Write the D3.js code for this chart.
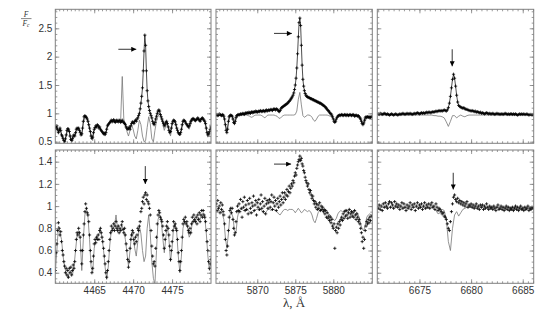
<!DOCTYPE html>
<html>
<head>
<meta charset="utf-8">
<script src="https://cdn.jsdelivr.net/npm/d3@7"></script>
<style>
body { margin: 0; background: #fff; }
svg { display: block; }
</style>
</head>
<body>
<svg id="chart" width="555" height="334"></svg>
<script>
// Wavelength grids: observed points every 0.1 A, model every 0.2 A
var obsStep = 0.1, modelStep = 0.2;
var start4471 = 4460.0, start5876 = 5864.6, start6678 = 6671.0;

// Top row star, He I 4471
var obsTop4471 = [
    0.76, 0.74, 0.78, 0.72, 0.66, 0.7, 0.74, 0.7, 0.62, 0.6,
    0.56, 0.52, 0.5, 0.55, 0.62, 0.7, 0.73, 0.72, 0.68, 0.6,
    0.54, 0.52, 0.56, 0.6, 0.62, 0.6, 0.66, 0.72, 0.74, 0.73,
    0.74, 0.7, 0.66, 0.62, 0.64, 0.74, 0.86, 0.94, 0.96, 0.94,
    0.93, 0.9, 0.86, 0.8, 0.74, 0.68, 0.6, 0.56, 0.58, 0.66,
    0.72, 0.75, 0.78, 0.76, 0.8, 0.78, 0.74, 0.76, 0.72, 0.7,
    0.68, 0.66, 0.64, 0.65, 0.63, 0.66, 0.72, 0.78, 0.8, 0.82,
    0.84, 0.86, 0.88, 0.85, 0.87, 0.89, 0.86, 0.84, 0.87, 0.88,
    0.86, 0.85, 0.88, 0.87, 0.84, 0.86, 0.88, 0.85, 0.84, 0.82,
    0.8, 0.76, 0.74, 0.72, 0.73, 0.76, 0.72, 0.78, 0.82, 0.85,
    0.84, 0.82, 0.86, 0.88, 0.86, 0.9, 0.92, 0.96, 1.0, 1.08,
    1.18, 1.3, 1.45, 1.75, 2.1, 2.38, 2.2, 1.75, 1.4, 1.22,
    1.12, 1.05, 1.0, 0.96, 0.92, 0.86, 0.82, 0.8, 0.84, 0.9,
    0.95, 1.0, 1.04, 1.06, 1.04, 0.98, 0.94, 0.9, 0.86, 0.82,
    0.78, 0.8, 0.84, 0.86, 0.82, 0.76, 0.7, 0.66, 0.68, 0.74,
    0.82, 0.86, 0.88, 0.87, 0.85, 0.8, 0.74, 0.7, 0.66, 0.64,
    0.63, 0.66, 0.72, 0.8, 0.86, 0.88, 0.87, 0.85, 0.82, 0.8,
    0.78, 0.76, 0.78, 0.82, 0.86, 0.88, 0.9, 0.91, 0.9, 0.88,
    0.87, 0.89, 0.9, 0.92, 0.9, 0.88, 0.86, 0.89, 0.91, 0.92,
    0.9, 0.88, 0.86, 0.82, 0.74, 0.66, 0.62, 0.64, 0.68, 0.72,
    0.76
];
var modelTop4471 = [
    0.74, 0.72, 0.66, 0.72, 0.62,
    0.52, 0.5, 0.6, 0.7, 0.68,
    0.52, 0.5, 0.58, 0.62, 0.7,
    0.72, 0.66, 0.6, 0.82, 0.93,
    0.92, 0.86, 0.74, 0.58, 0.52,
    0.7, 0.76, 0.8, 0.78, 0.72,
    0.66, 0.62, 0.6, 0.72, 0.8,
    0.84, 0.86, 0.85, 0.86, 0.84,
    0.85, 0.86, 0.9, 1.65, 0.9,
    0.8, 0.68, 0.6, 0.7, 0.8,
    0.72, 0.6, 0.55, 0.7, 0.88,
    0.8, 0.6, 0.5, 0.52, 0.75,
    0.94, 0.82, 0.55, 0.5, 0.7,
    0.86, 0.95, 1.0, 0.92, 0.82,
    0.7, 0.78, 0.82, 0.72, 0.6,
    0.78, 0.86, 0.84, 0.74, 0.64,
    0.6, 0.7, 0.84, 0.86, 0.84,
    0.78, 0.72, 0.8, 0.88, 0.9,
    0.86, 0.88, 0.9, 0.86, 0.9,
    0.9, 0.84, 0.7, 0.58, 0.62,
    0.74
];

// Top row star, He I 5876
var obsTop5876 = [
    0.97, 0.98, 0.96, 0.97, 0.99, 0.98, 0.97, 0.96, 0.98, 0.97,
    0.95, 0.9, 0.8, 0.7, 0.66, 0.72, 0.86, 0.94, 0.96, 0.97,
    0.96, 0.95, 0.9, 0.84, 0.82, 0.86, 0.93, 0.96, 0.97, 0.98,
    0.97, 0.98, 0.99, 0.98, 0.99, 1.0, 0.99, 0.98, 1.0, 1.01,
    1.0, 1.01, 1.0, 1.02, 1.01, 1.0, 1.02, 1.03, 1.01, 1.02,
    1.03, 1.02, 1.04, 1.03, 1.02, 1.03, 1.04, 1.03, 1.05, 1.04,
    1.03, 1.04, 1.05, 1.04, 1.03, 1.05, 1.06, 1.04, 1.05, 1.06,
    1.05, 1.06, 1.07, 1.06, 1.05, 1.07, 1.08, 1.07, 1.06, 1.08,
    1.07, 1.06, 1.04, 1.03, 1.05, 1.08, 1.1, 1.11, 1.12, 1.13,
    1.14, 1.15, 1.16, 1.17, 1.18, 1.2, 1.21, 1.23, 1.25, 1.27,
    1.29, 1.32, 1.36, 1.42, 1.5, 1.62, 1.8, 2.05, 2.35, 2.6,
    2.68, 2.55, 2.2, 1.85, 1.6, 1.48, 1.4, 1.35, 1.32, 1.3,
    1.29, 1.28, 1.28, 1.27, 1.26, 1.26, 1.25, 1.24, 1.24, 1.23,
    1.22, 1.22, 1.21, 1.2, 1.2, 1.19, 1.18, 1.18, 1.17, 1.16,
    1.15, 1.14, 1.13, 1.12, 1.1, 1.09, 1.07, 1.05, 1.04, 1.02,
    1.0, 0.99, 0.97, 0.94, 0.9, 0.86, 0.84, 0.86, 0.9, 0.93,
    0.95, 0.96, 0.97, 0.96, 0.97, 0.98, 0.97, 0.96, 0.97, 0.98,
    0.97, 0.96, 0.98, 0.97, 0.96, 0.97, 0.98, 0.97, 0.96, 0.97,
    0.98, 0.97, 0.95, 0.96, 0.97, 0.96, 0.95, 0.96, 0.94, 0.92,
    0.9, 0.86, 0.82, 0.8, 0.83, 0.88, 0.92, 0.94, 0.93, 0.94,
    0.93, 0.94, 0.92, 0.93, 0.94
];
var modelTop5876 = [
    0.97, 0.96, 0.97, 0.96, 0.95,
    0.92, 0.8, 0.72, 0.82, 0.94,
    0.96, 0.93, 0.86, 0.88, 0.95,
    0.97, 0.97, 0.97, 0.97, 0.97,
    0.97, 0.96, 0.95, 0.93, 0.94,
    0.96, 0.97, 0.97, 0.97, 0.97,
    0.96, 0.94, 0.92, 0.95, 0.97,
    0.97, 0.97, 0.97, 0.97, 0.96,
    0.95, 0.92, 0.91, 0.94, 0.96,
    0.97, 0.97, 0.97, 0.97, 0.97,
    0.97, 0.97, 0.98, 1.04, 1.25,
    1.37, 1.15, 0.96, 0.93, 0.95,
    0.97, 0.97, 0.96, 0.93, 0.88,
    0.86, 0.9, 0.95, 0.97, 0.97,
    0.97, 0.97, 0.97, 0.97, 0.96,
    0.95, 0.93, 0.9, 0.88, 0.9,
    0.95, 0.97, 0.97, 0.97, 0.97,
    0.97, 0.97, 0.97, 0.97, 0.97,
    0.97, 0.96, 0.96, 0.95, 0.93,
    0.88, 0.82, 0.8, 0.86, 0.92,
    0.94, 0.95, 0.95
];

// Top row star, He I 6678
var obsTop6678 = [
    0.99, 0.98, 1.0, 0.99, 0.98, 0.99, 1.0, 0.99, 0.98, 0.99,
    0.98, 0.97, 0.98, 0.99, 0.98, 0.97, 0.98, 0.99, 0.98, 0.97,
    0.98, 0.99, 0.98, 0.99, 1.0, 0.99, 0.98, 0.99, 1.0, 0.99,
    0.99, 1.0, 0.99, 0.98, 0.99, 1.0, 0.99, 1.0, 1.01, 1.0,
    0.99, 1.0, 1.01, 1.0, 1.01, 1.0, 1.01, 1.02, 1.01, 1.02,
    1.02, 1.01, 1.02, 1.03, 1.02, 1.03, 1.04, 1.03, 1.04, 1.05,
    1.04, 1.05, 1.04, 1.05, 1.06, 1.05, 1.04, 1.06, 1.1, 1.18,
    1.3, 1.45, 1.6, 1.69, 1.62, 1.48, 1.32, 1.2, 1.14, 1.12,
    1.11, 1.1, 1.09, 1.1, 1.08, 1.07, 1.07, 1.06, 1.05, 1.05,
    1.04, 1.05, 1.04, 1.03, 1.04, 1.02, 1.03, 1.02, 1.01, 1.02,
    1.0, 1.01, 1.0, 0.99, 1.0, 1.01, 1.0, 0.99, 1.0, 0.99,
    0.99, 1.0, 0.99, 0.98, 0.99, 1.0, 0.99, 0.99, 0.98, 0.99,
    0.99, 0.98, 0.99, 1.0, 0.99, 0.98, 0.99, 0.98, 0.99, 0.99,
    0.98, 0.99, 0.98, 0.99, 0.98, 0.97, 0.98, 0.99, 0.98, 0.99,
    0.98, 0.99, 0.98, 0.98, 0.99, 0.98, 0.97, 0.98, 0.98, 0.97,
    0.98
];
var modelTop6678 = [
    0.97, 0.97, 0.97, 0.97, 0.97,
    0.97, 0.97, 0.97, 0.97, 0.97,
    0.97, 0.97, 0.97, 0.97, 0.97,
    0.97, 0.97, 0.97, 0.97, 0.97,
    0.97, 0.97, 0.97, 0.97, 0.97,
    0.97, 0.97, 0.96, 0.96, 0.95,
    0.95, 0.94, 0.92, 0.85, 0.77,
    0.86, 0.96, 0.96, 0.92, 0.95,
    0.97, 0.95, 0.94, 0.96, 0.97,
    0.97, 0.97, 0.97, 0.97, 0.97,
    0.97, 0.97, 0.97, 0.97, 0.97,
    0.97, 0.97, 0.97, 0.97, 0.97,
    0.97, 0.97, 0.97, 0.97, 0.97,
    0.97, 0.97, 0.97, 0.97, 0.97,
    0.97, 0.97, 0.97, 0.97, 0.97,
    0.97
];

// Bottom row star, He I 4471
var obsBot4471 = [
    0.42, 0.58, 0.66, 0.78, 0.85, 0.8, 0.74, 0.77, 0.68, 0.6,
    0.56, 0.5, 0.46, 0.4, 0.44, 0.38, 0.42, 0.36, 0.44, 0.4,
    0.45, 0.38, 0.42, 0.47, 0.44, 0.5, 0.6, 0.7, 0.76, 0.74,
    0.8, 0.76, 0.72, 0.6, 0.48, 0.6, 0.74, 0.84, 0.95, 1.02,
    0.98, 0.94, 0.92, 0.86, 0.74, 0.6, 0.5, 0.4, 0.44, 0.55,
    0.66, 0.7, 0.67, 0.72, 0.7, 0.74, 0.7, 0.78, 0.8, 0.76,
    0.72, 0.68, 0.62, 0.55, 0.48, 0.4, 0.36, 0.42, 0.5, 0.6,
    0.7, 0.76, 0.82, 0.78, 0.8, 0.84, 0.78, 0.82, 0.86, 0.8,
    0.78, 0.82, 0.76, 0.8, 0.78, 0.83, 0.86, 0.79, 0.76, 0.8,
    0.74, 0.66, 0.6, 0.52, 0.45, 0.5, 0.62, 0.7, 0.74, 0.78,
    0.76, 0.7, 0.66, 0.72, 0.68, 0.74, 0.8, 0.78, 0.82, 0.86,
    0.95, 0.98, 1.04, 1.08, 1.02, 1.1, 1.12, 1.06, 1.1, 1.04,
    1.02, 0.98, 0.92, 0.78, 0.64, 0.55, 0.48, 0.5, 0.46, 0.62,
    0.72, 0.84, 0.92, 0.96, 0.94, 0.9, 0.88, 0.86, 0.82, 0.74,
    0.62, 0.7, 0.78, 0.82, 0.86, 0.8, 0.74, 0.64, 0.52, 0.6,
    0.68, 0.78, 0.86, 0.82, 0.84, 0.8, 0.78, 0.7, 0.58, 0.5,
    0.42, 0.5, 0.6, 0.72, 0.84, 0.88, 0.86, 0.9, 0.84, 0.86,
    0.82, 0.78, 0.76, 0.8, 0.76, 0.84, 0.9, 0.86, 0.92, 0.88,
    0.86, 0.9, 0.84, 0.92, 0.88, 0.94, 0.86, 0.92, 0.96, 0.9,
    0.96, 0.92, 0.9, 0.86, 0.78, 0.68, 0.6, 0.5, 0.44, 0.48,
    0.52
];
var modelBot4471 = [
    0.4, 0.6, 0.82, 0.76, 0.7,
    0.55, 0.45, 0.4, 0.35, 0.4,
    0.42, 0.38, 0.45, 0.6, 0.74,
    0.78, 0.7, 0.42, 0.7, 0.92,
    0.98, 0.9, 0.7, 0.45, 0.4,
    0.62, 0.7, 0.72, 0.75, 0.78,
    0.72, 0.6, 0.45, 0.34, 0.45,
    0.65, 0.78, 0.8, 0.82, 0.92,
    0.8, 0.78, 0.8, 0.82, 0.78,
    0.7, 0.58, 0.46, 0.6, 0.76,
    0.72, 0.62, 0.55, 0.68, 0.82,
    0.75, 0.6, 0.5, 0.55, 0.8,
    0.92, 0.75, 0.5, 0.35, 0.3,
    0.6, 0.88, 0.92, 0.88, 0.72,
    0.58, 0.72, 0.82, 0.7, 0.5,
    0.62, 0.82, 0.84, 0.76, 0.55,
    0.4, 0.55, 0.8, 0.86, 0.85,
    0.8, 0.72, 0.75, 0.85, 0.88,
    0.85, 0.87, 0.9, 0.88, 0.92,
    0.94, 0.9, 0.75, 0.55, 0.42,
    0.5
];

// Bottom row star, He I 5876
var obsBot5876 = [
    1.02, 0.96, 1.05, 0.98, 1.0, 0.94, 1.03, 0.97, 1.01, 0.95,
    0.92, 0.84, 0.7, 0.6, 0.56, 0.64, 0.78, 0.9, 0.96, 0.98,
    0.94, 0.98, 0.88, 0.8, 0.74, 0.76, 0.86, 0.95, 1.0, 0.96,
    1.02, 0.95, 1.06, 0.98, 0.9, 1.04, 0.99, 1.08, 0.96, 1.01,
    0.97, 1.05, 0.93, 1.02, 1.07, 0.98, 0.94, 1.03, 1.0, 1.09,
    0.96, 1.01, 1.05, 0.92, 1.03, 0.99, 1.06, 0.97, 1.02, 1.1,
    0.98, 1.04, 0.95, 1.0, 1.07, 0.93, 1.02, 1.05, 0.98, 1.03,
    1.06, 0.99, 1.04, 1.1, 0.97, 1.03, 1.08, 1.0, 1.05, 0.96,
    1.02, 1.07, 0.99, 1.04, 1.09, 1.01, 1.06, 1.12, 1.03, 1.08,
    1.12, 1.06, 1.1, 1.15, 1.09, 1.13, 1.18, 1.12, 1.16, 1.2,
    1.18, 1.23, 1.21, 1.27, 1.3, 1.28, 1.34, 1.37, 1.4, 1.42,
    1.45, 1.41, 1.43, 1.38, 1.36, 1.32, 1.3, 1.26, 1.23, 1.21,
    1.18, 1.2, 1.15, 1.12, 1.14, 1.1, 1.07, 1.09, 1.05, 1.02,
    1.04, 0.99, 1.02, 0.97, 1.01, 0.98, 1.03, 0.96, 1.0, 0.97,
    0.99, 0.95, 0.97, 0.93, 0.96, 0.9, 0.94, 0.89, 0.91, 0.87,
    0.9, 0.85, 0.88, 0.82, 0.8, 0.84, 0.62, 0.78, 0.81, 0.76,
    0.84, 0.8, 0.86, 0.83, 0.88, 0.9, 0.87, 0.93, 0.89, 0.95,
    0.91, 0.96, 0.92, 0.89, 0.94, 0.97, 0.9, 0.93, 0.95, 0.91,
    0.94, 0.9, 0.96, 0.92, 0.88, 0.93, 0.9, 0.86, 0.88, 0.84,
    0.8, 0.76, 0.68, 0.72, 0.62, 0.7, 0.78, 0.82, 0.86, 0.84,
    0.88, 0.85, 0.9, 0.87, 0.91
];
var modelBot5876 = [
    0.96, 0.95, 0.96, 0.95, 0.93,
    0.88, 0.72, 0.62, 0.75, 0.92,
    0.94, 0.9, 0.78, 0.76, 0.9,
    0.96, 0.97, 0.97, 0.96, 0.97,
    0.97, 0.96, 0.95, 0.93, 0.94,
    0.96, 0.97, 0.97, 0.96, 0.97,
    0.96, 0.94, 0.93, 0.95, 0.97,
    0.97, 0.96, 0.97, 0.97, 0.96,
    0.95, 0.93, 0.92, 0.94, 0.96,
    0.97, 0.97, 0.96, 0.97, 0.97,
    0.97, 0.96, 0.94, 0.96, 0.98,
    0.96, 0.94, 0.95, 0.97, 0.96,
    0.95, 0.96, 0.95, 0.92, 0.87,
    0.85, 0.89, 0.94, 0.96, 0.97,
    0.96, 0.96, 0.95, 0.94, 0.93,
    0.92, 0.9, 0.88, 0.87, 0.89,
    0.93, 0.95, 0.96, 0.95, 0.96,
    0.97, 0.95, 0.96, 0.97, 0.96,
    0.95, 0.96, 0.95, 0.93, 0.9,
    0.84, 0.79, 0.78, 0.83, 0.9,
    0.92, 0.93, 0.92
];

// Bottom row star, He I 6678
var obsBot6678 = [
    0.98, 1.01, 0.97, 1.0, 0.96, 1.02, 0.99, 1.03, 1.0, 0.98,
    1.02, 1.04, 0.99, 1.03, 1.01, 0.98, 1.04, 1.0, 1.02, 0.99,
    1.01, 0.97, 1.0, 1.03, 0.98, 1.02, 0.99, 0.96, 1.01, 0.98,
    1.0, 1.03, 0.97, 1.01, 0.99, 1.02, 0.96, 1.0, 1.03, 0.98,
    1.01, 0.99, 1.02, 0.97, 1.0, 1.03, 0.98, 1.01, 0.99, 1.02,
    0.98, 1.01, 1.03, 0.99, 1.0, 0.97, 1.02, 0.99, 0.96, 0.98,
    0.97, 0.95, 0.93, 0.94, 0.91, 0.9, 0.88, 0.84, 0.8, 0.78,
    0.86, 0.95, 1.02, 1.08, 1.1, 1.06, 1.04, 1.07, 1.03, 1.05,
    1.02, 1.04, 1.01, 1.03, 1.0, 1.02, 1.04, 0.99, 1.01, 1.0,
    1.02, 0.99, 1.01, 0.98, 1.0, 1.02, 0.98, 1.0, 0.97, 1.01,
    0.99, 1.01, 0.97, 1.0, 0.98, 1.02, 0.99, 0.97, 1.0, 0.98,
    0.99, 0.97, 1.0, 0.98, 0.96, 0.99, 1.01, 0.97, 0.98, 1.0,
    0.97, 0.99, 0.96, 0.98, 1.0, 0.97, 0.99, 0.96, 0.98, 0.97,
    0.99, 0.96, 0.98, 1.0, 0.97, 0.99, 0.96, 0.98, 1.0, 0.97,
    0.98, 0.96, 0.99, 0.97, 0.98, 1.0, 0.96, 0.98, 0.97, 0.99,
    0.98
];
var modelBot6678 = [
    0.99, 0.99, 0.99, 0.99, 0.99,
    0.99, 0.99, 0.99, 0.99, 0.99,
    0.99, 0.99, 0.99, 0.99, 0.99,
    0.99, 0.99, 0.99, 0.99, 0.99,
    0.99, 0.99, 0.99, 0.99, 0.99,
    0.99, 0.99, 0.98, 0.96, 0.93,
    0.94, 0.97, 0.96, 0.88, 0.68,
    0.6, 0.8, 0.92, 0.95, 0.91,
    0.94, 0.97, 0.98, 0.99, 0.99,
    0.99, 0.99, 0.99, 0.99, 0.99,
    0.99, 0.99, 0.99, 0.99, 0.99,
    0.99, 0.99, 0.99, 0.99, 0.99,
    0.99, 0.99, 0.99, 0.99, 0.99,
    0.99, 0.99, 0.99, 0.99, 0.99,
    0.99, 0.99, 0.99, 0.99, 0.99,
    0.99
];

// Axis ticks and limits
var xDomains = [[4460, 4480], [5864.57, 5885.13], [6670.92, 6686.06]];
var xTickLabels = [[4465, 4470, 4475], [5870, 5875, 5880], [6675, 6680, 6685]];
var yDomains = [[0.472, 2.835], [0.305, 1.505]];
var yTickLabels = [[0.5, 1, 1.5, 2, 2.5], [0.4, 0.6, 0.8, 1, 1.2, 1.4]];
var yMinorStep = [0.1, 0.05];

// Arrows marking the He I lines: [x1, y1, x2, y2] in data units
var arrowsTop = [[4468.1, 2.13, 4470.4, 2.13], [5872.2, 2.41, 5874.55, 2.41], [6678.17, 2.13, 6678.17, 1.83]];
var arrowsBot = [[4471.56, 1.36, 4471.56, 1.2], [5872.2, 1.378, 5874.45, 1.378], [6678.27, 1.3, 6678.27, 1.15]];

// Layout
var colLeft = [55.3, 216, 377.3], colWidth = [155.7, 156.3, 156.4];
var rowTop = [9.3, 150], rowHeight = [134, 133.3];
var frameColor = "#808080", textColor = "#333", modelColor = "#777";

var svg = d3.select("#chart");

svg.append("defs")
    .append("marker")
    .attr("id", "arrowhead")
    .attr("viewBox", "0 0 10 10")
    .attr("refX", 10)
    .attr("refY", 5)
    .attr("markerUnits", "userSpaceOnUse")
    .attr("markerWidth", 6)
    .attr("markerHeight", 5)
    .attr("orient", "auto")
    .append("path")
    .attr("d", "M0,0L10,5L0,10z")
    .attr("fill", "#000");

var panels = [
    {row: 0, col: 0, start: start4471, obs: obsTop4471, model: modelTop4471, arrow: arrowsTop[0]},
    {row: 0, col: 1, start: start5876, obs: obsTop5876, model: modelTop5876, arrow: arrowsTop[1]},
    {row: 0, col: 2, start: start6678, obs: obsTop6678, model: modelTop6678, arrow: arrowsTop[2]},
    {row: 1, col: 0, start: start4471, obs: obsBot4471, model: modelBot4471, arrow: arrowsBot[0]},
    {row: 1, col: 1, start: start5876, obs: obsBot5876, model: modelBot5876, arrow: arrowsBot[1]},
    {row: 1, col: 2, start: start6678, obs: obsBot6678, model: modelBot6678, arrow: arrowsBot[2]}
];

function styleAxis(g) {
    g.select(".domain").remove();
    g.attr("font-family", "'Liberation Sans', Arial, sans-serif").attr("font-size", 10);
    g.selectAll("line").attr("stroke", frameColor).attr("stroke-width", 0.8);
    g.selectAll("text").attr("fill", textColor);
}

function drawTicks(axisFn, scale, values, size, labels, tx, ty) {
    var axis = axisFn(scale)
        .tickValues(values)
        .tickSizeInner(-size)
        .tickSizeOuter(0)
        .tickPadding(labels ? (axisFn === d3.axisBottom ? 4 : 3) : 0)
        .tickFormat(labels ? function(d) { return d; } : function() { return ""; });
    svg.append("g")
        .attr("transform", "translate(" + tx + "," + ty + ")")
        .call(axis)
        .call(styleAxis);
}

panels.forEach(function(p, k) {
    var left = colLeft[p.col], top = rowTop[p.row];
    var w = colWidth[p.col], h = rowHeight[p.row];
    var xd = xDomains[p.col], yd = yDomains[p.row];

    var x = d3.scaleLinear().domain(xd).range([left, left + w]);
    var y = d3.scaleLinear().domain(yd).range([top + h, top]);

    svg.append("clipPath")
        .attr("id", "clip" + k)
        .append("rect")
        .attr("x", left).attr("y", top)
        .attr("width", w).attr("height", h);

    var plot = svg.append("g").attr("clip-path", "url(#clip" + k + ")");

    // model spectrum
    plot.append("path")
        .datum(p.model)
        .attr("fill", "none")
        .attr("stroke", modelColor)
        .attr("stroke-width", 0.8)
        .attr("d", d3.line()
            .x(function(d, i) { return x(p.start + i * modelStep); })
            .y(function(d) { return y(d); }));

    // observed points (top row is dense enough to read as a band)
    if (p.row == 0) {
        plot.append("path")
            .datum(p.obs)
            .attr("fill", "none")
            .attr("stroke", "#000")
            .attr("stroke-width", 0.7)
            .attr("d", d3.line()
                .x(function(d, i) { return x(p.start + i * obsStep); })
                .y(function(d) { return y(d); }));
    }

    plot.append("g")
        .selectAll("path")
        .data(p.obs)
        .enter()
        .append("path")
        .attr("transform", function(d, i) { return "translate(" + x(p.start + i * obsStep) + "," + y(d) + ")"; })
        .attr("d", "M-1.6,0H1.6M0,-1.6V1.6")
        .attr("stroke", "#000")
        .attr("stroke-width", 0.8);

    // arrow
    svg.append("line")
        .attr("x1", x(p.arrow[0])).attr("y1", y(p.arrow[1]))
        .attr("x2", x(p.arrow[2])).attr("y2", y(p.arrow[3]))
        .attr("stroke", "#000")
        .attr("stroke-width", 0.8)
        .attr("marker-end", "url(#arrowhead)");

    // frame
    svg.append("rect")
        .attr("x", left).attr("y", top)
        .attr("width", w).attr("height", h)
        .attr("fill", "none")
        .attr("stroke", frameColor)
        .attr("stroke-width", 1);

    // minor ticks on all four sides
    var xMinor = d3.range(Math.ceil(xd[0] * 2) / 2, xd[1], 0.5);
    var ys = yMinorStep[p.row];
    var yMinor = d3.range(Math.ceil(yd[0] / ys) * ys, yd[1], ys);
    drawTicks(d3.axisBottom, x, xMinor, 2, false, 0, top + h);
    drawTicks(d3.axisTop, x, xMinor, 2, false, 0, top);
    drawTicks(d3.axisLeft, y, yMinor, 2, false, left, 0);
    drawTicks(d3.axisRight, y, yMinor, 2, false, left + w, 0);

    // major ticks, labelled on the outer panels only
    drawTicks(d3.axisBottom, x, xTickLabels[p.col], 4, p.row == 1, 0, top + h);
    drawTicks(d3.axisTop, x, xTickLabels[p.col], 4, false, 0, top);
    drawTicks(d3.axisLeft, y, yTickLabels[p.row], 4, p.col == 0, left, 0);
    drawTicks(d3.axisRight, y, yTickLabels[p.row], 4, false, left + w, 0);
});

// x axis title
svg.append("text")
    .attr("x", 294)
    .attr("y", 307)
    .attr("text-anchor", "middle")
    .attr("font-family", "'Liberation Serif', 'Times New Roman', serif")
    .attr("font-size", 13)
    .attr("fill", textColor)
    .text("λ, Å");

// y axis title as a fraction F / Fc
var yTitle = svg.append("g")
    .attr("font-family", "'Liberation Serif', 'Times New Roman', serif")
    .attr("font-style", "italic")
    .attr("font-size", 7.5)
    .attr("fill", textColor)
    .attr("text-anchor", "middle");
yTitle.append("text").attr("x", 26).attr("y", 17).text("F");
yTitle.append("line")
    .attr("x1", 21).attr("x2", 31.5)
    .attr("y1", 18.6).attr("y2", 18.6)
    .attr("stroke", textColor)
    .attr("stroke-width", 0.6);
var den = yTitle.append("text").attr("x", 26).attr("y", 25.5);
den.append("tspan").text("F");
den.append("tspan").attr("font-size", 5.5).attr("dy", 1.2).text("c");
</script>
</body>
</html>
